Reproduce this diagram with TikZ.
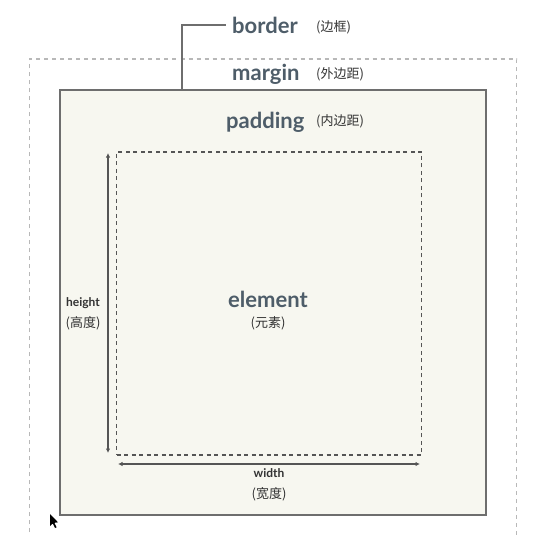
\documentclass[tikz,border=0pt]{standalone}
\usepackage{fontspec}
\setmainfont{Lato}
\newfontfamily\cjk{Noto Sans CJK SC}
\usetikzlibrary{arrows.meta}
\definecolor{txtblue}{HTML}{4E5D69}
\definecolor{cjkgray}{HTML}{333333}
\definecolor{paper}{HTML}{F7F7F0}
\definecolor{bordergray}{HTML}{6E6E6E}
\definecolor{margingray}{HTML}{B8B8B8}
\definecolor{elemgray}{HTML}{555555}
\tikzset{
  big/.style={text=txtblue, font=\fontsize{22}{26}\selectfont\bfseries, inner sep=0pt},
  small/.style={text=cjkgray, font=\cjk\fontsize{13}{15}\selectfont, inner sep=0pt},
  dimlbl/.style={text=cjkgray, font=\fontsize{12}{14}\selectfont\bfseries, inner sep=0pt},
  dimarrow/.style={draw=elemgray, line width=1.3pt, {Latex[length=4.5pt,width=4.5pt]}-{Latex[length=4.5pt,width=4.5pt]}},
}
\begin{document}
\begin{tikzpicture}[x=1pt,y=-1pt]
\useasboundingbox (0,0) rectangle (555,536);
\fill[white] (0,0) rectangle (555,536);
% margin (dashed outer)
\draw[margingray, line width=1.1pt, dash pattern=on 4pt off 4pt] (29.5,540) -- (29.5,59) -- (516.5,59) -- (516.5,540);
% border box
\node[draw=bordergray, fill=paper, line width=1.5pt, minimum width=426pt, minimum height=425pt, inner sep=0pt] (borderbox) at (273,302.5) {};
% element box
\node[draw=elemgray, line width=1.4pt, dash pattern=on 4pt off 3.5pt, minimum width=305pt, minimum height=303pt, inner sep=0pt] (elembox) at (269.2,303.3) {};
% leader for border label
\coordinate (bordertop) at (182,90);
\node[big, anchor=base west] (borderlbl) at (232,33) {border};
\node[small, anchor=west] (bordercn) at (316,27.5) {(边框)};
\draw[bordergray, line width=1.2pt] (bordertop) |- ([xshift=-6pt]borderlbl.west);
% margin label
\node[big, anchor=base west] (marginlbl) at (232,80) {margin};
\node[small, anchor=west] (margincn) at (316,74) {(外边距)};
% padding label
\node[big, anchor=base west] (paddinglbl) at (226,128) {padding};
\node[small, anchor=west] (paddingcn) at (316,121.5) {(内边距)};
% element label
\node[big, anchor=base] (elemlbl) at (268,307) {element};
\node[small] (elemcn) at (268,323) {(元素)};
% height
\coordinate (ha) at (108,153);
\coordinate (hb) at (108,453);
\draw[dimarrow] (ha) -- (hb);
\node[dimlbl, anchor=base] (heightlbl) at (83,306) {height};
\node[small] (heightcn) at (83,323) {(高度)};
% width
\coordinate (wa) at (118,464);
\coordinate (wb) at (420,464);
\draw[dimarrow] (wa) -- (wb);
\node[dimlbl, anchor=base] (widthlbl) at (269,477) {width};
\node[small] (widthcn) at (269,494) {(宽度)};
% mouse cursor
\fill[black] (50,514) -- (50,526) -- (52.8,523.5) -- (55,528) -- (56.6,527.2) -- (54.4,522.8) -- (58,522.3) -- cycle;
\end{tikzpicture}
\end{document}
